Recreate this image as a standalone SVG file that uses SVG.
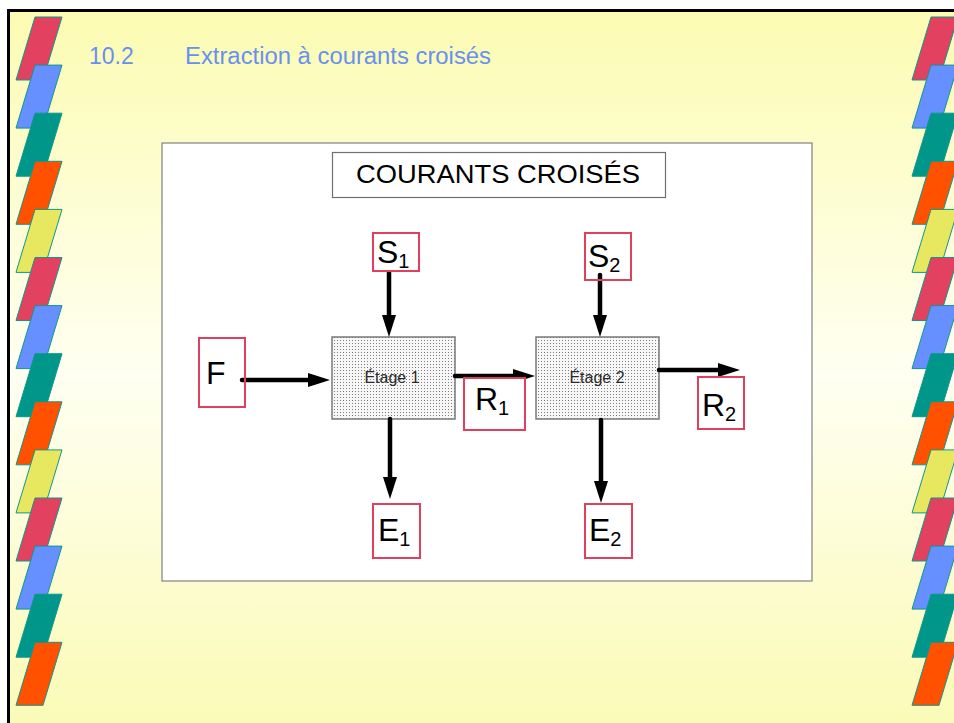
<svg xmlns="http://www.w3.org/2000/svg" xmlns:xlink="http://www.w3.org/1999/xlink" width="954" height="723" viewBox="0 0 954 723">
  <defs>
    <linearGradient id="bg" x1="0" y1="0" x2="0" y2="1">
      <stop offset="0" stop-color="#FBFBB2"/>
      <stop offset="0.5" stop-color="#FFFFF2"/>
      <stop offset="1" stop-color="#FAFAB4"/>
    </linearGradient>
    <pattern id="dots" width="3" height="3" patternUnits="userSpaceOnUse">
      <rect width="3" height="3" fill="#F7F7F7"/>
      <rect x="1" y="1" width="1" height="1" fill="#7C7C7C"/>
    </pattern>
    <polygon id="slab" points="35,17 62,17 43,80 16,80"/>
    <marker id="head" markerUnits="userSpaceOnUse" markerWidth="24" markerHeight="16" viewBox="0 -8 24 16" refX="0" refY="0" orient="auto">
      <path d="M0,-7 L22,0 L0,7 Z" fill="#000"/>
    </marker>
    <style>
      .slab { stroke: #0E978B; stroke-width: 1; }
      .red { fill: #E2425F; }
      .blue { fill: #6690FF; }
      .teal { fill: #00968A; }
      .orange { fill: #FF5100; }
      .yellow { fill: #E8E860; }
      .lbl { fill: #fff; stroke: #E0405E; stroke-width: 2; }
      .big { font-family: "Liberation Sans", Arial, sans-serif; font-size: 32px; fill: #000; }
      .sub { font-size: 20px; }
      .stage { fill: url(#dots); stroke: #7A7A7A; stroke-width: 1.5; }
      .stxt { font-family: "Liberation Sans", Arial, sans-serif; font-size: 16px; fill: #2A2A2A; text-anchor: middle; }
      .flow { stroke: #000; stroke-width: 4.5; stroke-linecap: round; fill: none; marker-end: url(#head); }
    </style>
  </defs>

  <!-- page -->
  <rect x="0" y="0" width="954" height="723" fill="#FFFFFF"/>
  <rect x="8.5" y="10.5" width="960" height="730" fill="url(#bg)" stroke="#000" stroke-width="3"/>

  <!-- left band of slanted tiles -->
  <g id="band-left" class="slab">
    <use xlink:href="#slab" class="red" transform="translate(0,0)"/>
    <use xlink:href="#slab" class="blue" transform="translate(0,48.1)"/>
    <use xlink:href="#slab" class="teal" transform="translate(0,96.2)"/>
    <use xlink:href="#slab" class="orange" transform="translate(0,144.3)"/>
    <use xlink:href="#slab" class="yellow" transform="translate(0,192.4)"/>
    <use xlink:href="#slab" class="red" transform="translate(0,240.5)"/>
    <use xlink:href="#slab" class="blue" transform="translate(0,288.6)"/>
    <use xlink:href="#slab" class="teal" transform="translate(0,336.7)"/>
    <use xlink:href="#slab" class="orange" transform="translate(0,384.8)"/>
    <use xlink:href="#slab" class="yellow" transform="translate(0,432.9)"/>
    <use xlink:href="#slab" class="red" transform="translate(0,481)"/>
    <use xlink:href="#slab" class="blue" transform="translate(0,529.1)"/>
    <use xlink:href="#slab" class="teal" transform="translate(0,577.2)"/>
    <use xlink:href="#slab" class="orange" transform="translate(0,625.3)"/>
  </g>

  <!-- right band of slanted tiles -->
  <g id="band-right" class="slab">
    <use xlink:href="#slab" class="red" transform="translate(896,0)"/>
    <use xlink:href="#slab" class="blue" transform="translate(896,48.1)"/>
    <use xlink:href="#slab" class="teal" transform="translate(896,96.2)"/>
    <use xlink:href="#slab" class="orange" transform="translate(896,144.3)"/>
    <use xlink:href="#slab" class="yellow" transform="translate(896,192.4)"/>
    <use xlink:href="#slab" class="red" transform="translate(896,240.5)"/>
    <use xlink:href="#slab" class="blue" transform="translate(896,288.6)"/>
    <use xlink:href="#slab" class="teal" transform="translate(896,336.7)"/>
    <use xlink:href="#slab" class="orange" transform="translate(896,384.8)"/>
    <use xlink:href="#slab" class="yellow" transform="translate(896,432.9)"/>
    <use xlink:href="#slab" class="red" transform="translate(896,481)"/>
    <use xlink:href="#slab" class="blue" transform="translate(896,529.1)"/>
    <use xlink:href="#slab" class="teal" transform="translate(896,577.2)"/>
    <use xlink:href="#slab" class="orange" transform="translate(896,625.3)"/>
  </g>

  <!-- slide heading -->
  <g id="heading" font-family="'Liberation Sans', Arial, sans-serif" font-size="23" fill="#6890F0">
    <text x="89" y="64">10.2</text>
    <text x="185" y="64" textLength="306" lengthAdjust="spacingAndGlyphs">Extraction à courants croisés</text>
  </g>

  <!-- diagram panel -->
  <rect id="panel" x="162" y="143" width="650" height="438" fill="#FFFFFF" stroke="#808080" stroke-width="1.2"/>

  <g id="title">
    <rect x="332.5" y="152.5" width="333" height="45" fill="#FFFFFF" stroke="#707070" stroke-width="1.2"/>
    <text x="356" y="183" font-family="'Liberation Sans', Arial, sans-serif" font-size="25.5" fill="#000" textLength="284" lengthAdjust="spacingAndGlyphs">COURANTS CROISÉS</text>
  </g>

  <!-- stages -->
  <g id="stage1">
    <rect class="stage" x="332" y="337" width="123" height="82"/>
    <text class="stxt" x="392" y="383">Étage 1</text>
  </g>
  <g id="stage2">
    <rect class="stage" x="536" y="337" width="123" height="82"/>
    <text class="stxt" x="597" y="383">Étage 2</text>
  </g>

  <!-- streams -->
  <g id="connectors">
    <line class="flow" x1="242" y1="380" x2="308" y2="380"/>
    <line class="flow" x1="389" y1="271" x2="389" y2="315"/>
    <line class="flow" x1="455" y1="376" x2="513" y2="376"/>
    <line class="flow" x1="600" y1="275" x2="600" y2="315"/>
    <line class="flow" x1="659" y1="370" x2="718" y2="370"/>
    <line class="flow" x1="390" y1="419" x2="390" y2="477"/>
    <line class="flow" x1="601" y1="420" x2="601" y2="481"/>
  </g>

  <!-- stream labels -->
  <g id="F">
    <rect class="lbl" x="199" y="338" width="46" height="69" fill-opacity="0"/>
    <text class="big" x="206" y="384">F</text>
  </g>
  <g id="S1">
    <rect class="lbl" x="373" y="233" width="46" height="38"/>
    <text class="big" x="377" y="263">S<tspan class="sub" dy="5">1</tspan></text>
  </g>
  <g id="S2">
    <rect class="lbl" x="585" y="233" width="46" height="47" fill-opacity="0"/>
    <text class="big" x="588" y="267">S<tspan class="sub" dy="5">2</tspan></text>
  </g>
  <g id="R1">
    <rect class="lbl" x="464" y="378" width="61" height="52"/>
    <text class="big" x="475" y="410">R<tspan class="sub" dy="5">1</tspan></text>
  </g>
  <g id="R2">
    <rect class="lbl" x="698" y="377" width="46" height="52"/>
    <text class="big" x="702" y="416">R<tspan class="sub" dy="5">2</tspan></text>
  </g>
  <g id="E1">
    <rect class="lbl" x="373" y="504" width="47" height="54"/>
    <text class="big" x="378" y="541">E<tspan class="sub" dy="5">1</tspan></text>
  </g>
  <g id="E2">
    <rect class="lbl" x="585" y="504" width="47" height="54"/>
    <text class="big" x="589" y="541">E<tspan class="sub" dy="5">2</tspan></text>
  </g>
</svg>
